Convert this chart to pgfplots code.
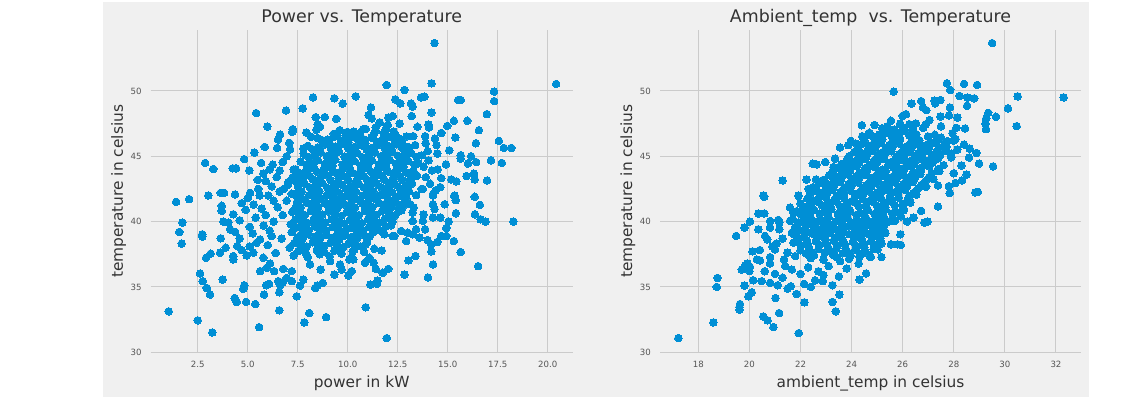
\documentclass[border=0pt]{standalone}
\usepackage{pgfplots}
\usepackage{pgfplotstable}
\pgfplotsset{compat=1.18}
\usepackage{fontspec}
\setmainfont{DejaVu Sans}
\definecolor{bg}{HTML}{F0F0F0}
\definecolor{gridc}{HTML}{CBCBCB}
\definecolor{dot}{HTML}{008FD5}
\definecolor{txt}{HTML}{333333}
\definecolor{tickc}{HTML}{555555}

% power (kW) vs temperature
\pgfplotstableread{
x y
8.27 49.51
9.33 49.44
9.75 49.03
10.4 49.59
5.42 48.31
6.92 48.51
7.75 48.67
8.4 48.0
8.85 48.0
9.43 47.87
5.98 47.28
7.25 47.08
7.23 46.87
7.93 46.82
8.5 47.46
8.62 47.26
8.43 47.03
6.62 46.67
6.52 46.28
6.47 45.64
5.85 45.72
7.08 46.03
7.12 45.54
8.18 46.49
8.73 46.23
9.48 46.79
9.98 46.87
10.37 46.44
10.78 47.08
5.33 45.28
4.82 44.79
2.87 44.49
3.28 44.03
4.25 44.08
4.42 44.08
5.08 43.92
5.67 44.49
6.25 44.36
6.75 44.56
6.95 45.0
7.78 45.59
5.78 43.67
6.45 43.41
7.03 43.03
7.45 43.41
3.03 42.0
3.65 42.2
3.82 42.2
4.37 42.08
5.12 42.2
5.53 42.51
6.03 42.0
7.2 42.13
5.9 43.1
6.2 42.7
6.6 43.9
6.8 42.5
7.3 44.0
5.5 43.2
6.1 44.0
14.34 53.67
11.95 50.46
14.19 50.59
12.84 50.08
20.42 50.54
17.32 49.95
17.32 49.23
15.52 49.31
15.65 49.31
12.38 49.36
12.63 49.05
13.17 49.05
13.25 48.8
13.67 49.51
13.84 49.56
11.16 48.74
11.04 48.15
14.19 48.36
13.2 48.08
12.03 47.97
12.25 48.08
15.31 47.72
15.98 47.72
16.96 48.23
14.98 47.33
14.68 46.79
16.56 47.0
15.38 46.44
16.41 46.0
17.56 46.18
17.81 45.64
18.18 45.64
15.08 45.46
15.65 45.08
15.65 44.82
16.17 45.0
16.42 44.56
16.01 44.44
17.16 44.69
17.71 44.49
14.91 44.38
15.94 43.49
16.31 43.67
16.35 43.23
16.97 43.15
14.68 43.33
15.18 43.23
15.43 43.08
14.26 42.0
15.35 42.0
14.04 47.44
14.07 47.21
13.49 47.26
13.28 46.54
13.87 46.54
14.36 46.36
14.44 45.85
14.48 45.21
14.04 44.69
14.21 43.92
14.12 42.9
14.63 42.64
11.2 47.9
11.6 47.6
12.0 47.4
12.6 47.5
11.4 47.2
13.9 46.0
14.0 45.4
13.8 44.2
14.5 44.0
13.9 43.4
14.4 42.4
13.7 42.5
1.42 41.51
2.07 41.72
1.73 39.92
1.58 39.21
1.7 38.31
2.73 39.03
2.73 38.85
3.65 38.72
3.78 40.0
3.7 41.21
3.7 40.82
4.28 40.56
4.7 41.41
4.12 39.41
4.37 39.21
4.03 39.92
2.92 37.23
3.15 37.54
3.62 37.62
3.9 38.0
4.28 37.1
4.28 37.36
4.48 38.13
4.7 37.82
4.95 37.41
5.28 37.62
5.25 39.1
5.45 38.38
5.62 38.64
5.78 37.23
5.62 36.21
5.95 36.46
6.32 36.21
6.12 36.79
2.62 36.03
2.75 35.44
2.95 34.92
3.12 34.41
3.75 35.56
4.83 35.13
4.78 34.85
4.35 34.15
4.45 33.85
4.92 33.85
5.38 33.69
5.82 34.41
5.92 35.13
6.07 35.23
6.58 34.59
6.62 35.13
6.75 35.36
6.53 35.44
6.95 35.69
7.2 35.44
7.45 34.28
7.62 35.1
7.78 35.56
8.38 34.92
8.48 35.1
8.75 35.31
6.58 33.21
1.05 33.13
2.5 32.44
3.23 31.51
5.57 31.92
8.08 33.0
8.92 32.69
7.83 32.28
10.9 33.44
9.33 35.95
9.7 36.33
10.03 35.87
10.2 36.21
10.28 37.1
10.08 37.1
9.62 36.72
8.65 36.33
9.12 36.97
8.12 36.72
7.2 36.21
6.78 36.38
5.0 41.8
5.3 41.3
5.7 41.0
5.9 40.5
6.3 40.0
4.6 40.1
5.1 39.6
5.4 40.3
6.1 39.3
5.8 39.7
6.3 41.6
5.6 42.0
4.9 40.9
6.0 38.2
6.4 37.6
6.2 38.9
5.1 38.1
4.6 38.7
18.28 40.0
16.89 40.0
16.64 40.18
16.36 40.56
16.61 41.28
16.35 41.9
15.4 41.64
15.32 41.97
15.41 40.64
15.65 37.67
16.52 36.59
15.31 38.51
15.05 40.0
14.85 41.33
14.63 40.31
14.93 38.9
14.93 39.51
14.68 38.9
14.48 38.44
14.18 37.72
14.18 38.26
14.27 36.72
14.01 35.72
13.99 38.59
13.87 39.41
13.76 40.05
13.79 40.56
14.26 40.31
14.34 40.95
14.26 41.33
14.26 42.1
12.84 35.95
13.04 37.03
13.39 37.36
13.59 38.77
13.42 39.41
13.25 39.03
13.0 39.15
12.92 38.51
12.67 39.28
12.33 38.9
12.03 36.38
11.75 36.08
11.41 36.38
11.3 36.85
11.13 35.18
11.46 35.23
11.49 35.49
11.95 31.08
10.86 36.85
11.08 37.23
11.7 37.79
11.33 37.92
10.82 37.67
10.9 38.26
11.83 39.03
12.25 38.9
13.25 40.05
13.25 40.69
13.3 41.08
13.13 41.33
12.8 41.21
12.87 41.97
13.42 42.03
13.76 42.5
7.3 37.4
8.0 37.28
8.6 37.5
9.1 37.34
9.7 37.54
10.2 37.3
7.1 38.0
7.61 37.88
7.95 38.1
8.48 37.94
8.83 38.14
9.4 37.9
9.78 38.04
10.33 37.85
10.66 38.09
6.7 38.7
7.41 38.48
7.75 38.7
8.28 38.54
8.63 38.74
9.2 38.5
9.58 38.64
10.13 38.45
10.46 38.69
10.97 38.57
7.2 39.2
7.71 39.08
8.05 39.3
8.58 39.14
8.93 39.34
9.5 39.1
9.88 39.24
10.43 39.05
10.76 39.29
11.27 39.17
11.64 39.32
7.15 39.8
7.66 39.68
8.0 39.9
8.53 39.74
8.88 39.94
9.45 39.7
9.83 39.84
10.38 39.65
10.71 39.89
11.22 39.77
11.59 39.92
12.17 39.72
6.75 40.5
7.51 40.28
7.85 40.5
8.38 40.34
8.73 40.54
9.3 40.3
9.68 40.44
10.23 40.25
10.56 40.49
11.07 40.37
11.44 40.52
12.02 40.32
12.37 40.46
6.5 41.1
7.31 40.88
7.65 41.1
8.18 40.94
8.53 41.14
9.1 40.9
9.48 41.04
10.03 40.85
10.36 41.09
10.87 40.97
11.24 41.12
11.82 40.92
12.17 41.06
12.69 40.87
6.95 41.6
7.46 41.48
7.8 41.7
8.33 41.54
8.68 41.74
9.25 41.5
9.63 41.64
10.18 41.45
10.51 41.69
11.02 41.57
11.39 41.72
11.97 41.52
12.32 41.66
12.84 41.47
6.6 42.3
7.36 42.08
7.7 42.3
8.23 42.14
8.58 42.34
9.15 42.1
9.53 42.24
10.08 42.05
10.41 42.29
10.92 42.17
11.29 42.32
11.87 42.12
12.22 42.26
12.74 42.07
13.07 42.31
7.0 42.8
7.51 42.68
7.85 42.9
8.38 42.74
8.73 42.94
9.3 42.7
9.68 42.84
10.23 42.65
10.56 42.89
11.07 42.77
11.44 42.92
12.02 42.72
12.37 42.86
12.89 42.67
13.22 42.91
7.25 43.4
7.76 43.28
8.1 43.5
8.63 43.34
8.98 43.54
9.55 43.3
9.93 43.44
10.48 43.25
10.81 43.49
11.32 43.37
11.69 43.52
12.27 43.32
12.62 43.46
13.14 43.27
13.47 43.51
7.4 44.0
7.91 43.88
8.25 44.1
8.78 43.94
9.13 44.14
9.7 43.9
10.08 44.04
10.63 43.85
10.96 44.09
11.47 43.97
11.84 44.12
12.42 43.92
12.77 44.06
13.29 43.87
7.65 44.6
8.16 44.48
8.5 44.7
9.03 44.54
9.38 44.74
9.95 44.5
10.33 44.64
10.88 44.45
11.21 44.69
11.72 44.57
12.09 44.72
12.67 44.52
13.02 44.66
13.54 44.47
7.8 45.2
8.31 45.08
8.65 45.3
9.18 45.14
9.53 45.34
10.1 45.1
10.48 45.24
11.03 45.05
11.36 45.29
11.87 45.17
12.24 45.32
12.82 45.12
13.17 45.26
13.69 45.07
8.0 45.8
8.51 45.68
8.85 45.9
9.38 45.74
9.73 45.94
10.3 45.7
10.68 45.84
11.23 45.65
11.56 45.89
12.07 45.77
12.44 45.92
13.02 45.72
13.37 45.86
8.5 46.4
9.01 46.28
9.35 46.5
9.88 46.34
10.23 46.54
10.8 46.3
11.18 46.44
11.73 46.25
12.06 46.49
12.57 46.37
12.94 46.52
9.6 47.0
10.3 46.9
10.9 47.1
11.4 46.95
11.9 47.05
12.3 46.9
7.53 37.75
7.9 37.6
8.46 37.82
8.83 37.66
9.34 37.78
9.68 37.57
10.25 37.72
7.33 38.35
7.7 38.2
8.26 38.42
8.63 38.26
9.14 38.38
9.48 38.17
10.05 38.32
10.42 38.23
10.97 38.4
7.5 38.8
8.06 39.02
8.43 38.86
8.94 38.98
9.28 38.77
9.85 38.92
10.22 38.83
10.77 39.0
11.11 38.88
7.43 39.55
7.8 39.4
8.36 39.62
8.73 39.46
9.24 39.58
9.58 39.37
10.15 39.52
10.52 39.43
11.07 39.6
11.41 39.48
11.92 39.63
7.38 40.15
7.75 40.0
8.31 40.22
8.68 40.06
9.19 40.18
9.53 39.97
10.1 40.12
10.47 40.03
11.02 40.2
11.36 40.08
11.87 40.23
12.24 40.01
7.23 40.75
7.6 40.6
8.16 40.82
8.53 40.66
9.04 40.78
9.38 40.57
9.95 40.72
10.32 40.63
10.87 40.8
11.21 40.68
11.72 40.83
12.09 40.61
12.54 40.76
7.45 41.2
8.01 41.42
8.38 41.26
8.89 41.38
9.23 41.17
9.8 41.32
10.17 41.23
10.72 41.4
11.06 41.28
11.57 41.43
11.94 41.21
12.49 41.36
7.5 41.8
8.06 42.02
8.43 41.86
8.94 41.98
9.28 41.77
9.85 41.92
10.22 41.83
10.77 42.0
11.11 41.88
11.62 42.03
11.99 41.81
12.54 41.96
12.94 41.78
7.55 42.4
8.11 42.62
8.48 42.46
8.99 42.58
9.33 42.37
9.9 42.52
10.27 42.43
10.82 42.6
11.16 42.48
11.67 42.63
12.04 42.41
12.59 42.56
12.99 42.38
7.33 43.15
7.7 43.0
8.26 43.22
8.63 43.06
9.14 43.18
9.48 42.97
10.05 43.12
10.42 43.03
10.97 43.2
11.31 43.08
11.82 43.23
12.19 43.01
12.74 43.16
13.14 42.98
7.53 43.75
7.9 43.6
8.46 43.82
8.83 43.66
9.34 43.78
9.68 43.57
10.25 43.72
10.62 43.63
11.17 43.8
11.51 43.68
12.02 43.83
12.39 43.61
12.94 43.76
13.34 43.58
7.93 44.35
8.3 44.2
8.86 44.42
9.23 44.26
9.74 44.38
10.08 44.17
10.65 44.32
11.02 44.23
11.57 44.4
11.91 44.28
12.42 44.43
12.79 44.21
13.34 44.36
8.03 44.95
8.4 44.8
8.96 45.02
9.33 44.86
9.84 44.98
10.18 44.77
10.75 44.92
11.12 44.83
11.67 45.0
12.01 44.88
12.52 45.03
12.89 44.81
13.44 44.96
8.23 45.55
8.6 45.4
9.16 45.62
9.53 45.46
10.04 45.58
10.38 45.37
10.95 45.52
11.32 45.43
11.87 45.6
12.21 45.48
12.72 45.63
13.09 45.41
8.73 46.15
9.1 46.0
9.66 46.22
10.03 46.06
10.54 46.18
10.88 45.97
11.45 46.12
11.82 46.03
12.37 46.2
12.71 46.08
9.3 46.72
9.9 46.62
10.6 46.78
11.3 46.66
11.8 46.74
12.4 46.6
}\powerdata

% ambient temperature vs temperature
\pgfplotstableread{
x y
24.4 47.38
24.66 46.67
24.42 46.54
23.97 46.18
23.87 45.85
23.55 45.67
24.17 45.97
22.48 44.44
22.63 44.38
22.97 44.56
23.35 44.82
21.3 43.15
22.24 43.21
22.61 43.23
22.31 42.51
22.5 42.64
23.03 42.9
23.26 43.67
23.29 44.18
23.71 44.38
23.42 43.28
20.55 42.0
21.92 42.0
29.5 53.67
25.65 49.95
27.73 50.59
27.86 50.08
28.4 50.54
28.91 50.46
28.23 49.62
28.53 49.49
28.8 49.44
28.52 48.87
30.5 49.59
32.3 49.51
30.12 48.67
29.65 48.03
29.35 48.33
29.27 47.9
29.24 47.51
29.26 47.08
30.46 47.31
26.35 49.03
26.72 49.23
27.25 49.26
27.48 49.31
27.27 49.05
26.79 48.74
26.92 48.54
27.85 48.74
26.13 48.23
26.0 48.1
25.54 47.72
27.48 48.05
27.81 48.13
28.14 47.97
28.44 47.13
28.1 47.18
27.05 47.77
26.52 47.51
26.26 47.46
28.62 45.59
28.89 45.26
28.99 44.44
29.54 44.23
28.32 43.15
28.07 42.95
27.81 42.72
27.84 42.18
27.38 42.77
26.92 42.69
25.67 47.05
24.88 46.49
25.28 46.74
28.0 46.2
28.4 45.9
28.6 44.9
28.3 44.3
28.0 43.7
28.5 43.6
27.9 45.2
17.22 31.08
18.59 32.28
18.75 35.69
18.72 35.0
19.48 38.9
19.63 33.69
19.61 33.46
19.61 33.26
19.81 35.1
19.96 34.28
20.09 34.59
19.7 36.33
19.83 36.64
19.92 36.79
20.0 36.21
20.02 36.54
20.15 35.51
20.12 37.72
20.41 37.82
20.29 37.1
20.41 37.03
19.81 39.54
20.02 40.0
20.35 40.62
20.58 40.62
20.58 41.9
20.35 39.41
20.48 35.44
20.54 32.74
20.71 32.44
20.94 31.92
21.16 33.0
21.02 34.15
20.81 35.31
21.11 35.13
20.81 40.05
21.13 40.13
21.17 39.41
20.61 38.9
20.7 38.64
20.81 37.28
20.81 36.79
21.0 37.87
21.07 38.33
21.49 37.62
21.36 37.1
21.66 36.33
21.5 34.87
21.62 35.05
21.85 34.46
22.15 33.82
21.93 31.46
22.14 35.23
22.4 35.0
22.57 35.51
22.87 35.44
23.25 35.13
23.52 34.41
23.25 33.85
23.38 33.13
23.81 36.41
24.31 35.56
24.57 36.03
24.28 36.79
24.75 37.31
23.55 36.97
21.92 41.97
21.59 41.08
21.72 40.69
21.59 40.05
21.17 39.92
20.81 39.54
21.66 39.15
21.72 38.38
21.79 37.36
20.9 38.1
21.3 38.7
21.4 36.6
20.6 36.2
21.0 36.0
21.3 35.7
22.0 36.0
22.3 36.5
22.7 36.2
23.1 36.6
22.9 35.9
23.5 35.8
28.84 42.23
28.94 42.28
27.38 41.15
26.85 39.92
26.98 40.0
26.43 40.31
26.17 40.0
26.72 40.82
25.91 39.03
25.54 38.26
25.8 38.26
25.93 38.21
25.17 38.33
25.17 37.28
24.73 37.28
24.89 37.92
24.89 38.9
25.02 37.87
25.28 39.28
25.41 40.0
25.67 40.05
22.4 37.2
22.9 37.1
23.4 37.3
23.9 37.15
24.3 37.32
22.0 37.8
22.39 37.68
22.7 37.9
23.1 37.74
23.4 37.94
23.83 37.7
24.15 37.84
24.56 37.65
24.86 37.89
21.9 38.4
22.29 38.28
22.6 38.5
23.0 38.34
23.3 38.54
23.73 38.3
24.05 38.44
24.46 38.25
24.76 38.49
25.11 38.37
21.75 39.0
22.14 38.88
22.45 39.1
22.85 38.94
23.15 39.14
23.58 38.9
23.9 39.04
24.31 38.85
24.61 39.09
25.0 38.97
25.32 39.12
21.8 39.6
22.18 39.48
22.48 39.7
22.87 39.54
23.16 39.74
23.58 39.5
23.89 39.64
24.29 39.45
24.58 39.69
24.96 39.57
25.27 39.72
21.7 40.2
22.09 40.08
22.4 40.3
22.8 40.14
23.1 40.34
23.53 40.1
23.85 40.24
24.26 40.05
24.56 40.29
24.95 40.17
25.27 40.32
25.7 40.12
21.85 40.8
22.23 40.68
22.53 40.9
22.92 40.74
23.21 40.94
23.63 40.7
23.94 40.84
24.34 40.65
24.63 40.89
25.01 40.77
25.32 40.92
25.74 40.72
26.03 40.86
22.0 41.4
22.39 41.28
22.7 41.5
23.1 41.34
23.4 41.54
23.83 41.3
24.15 41.44
24.56 41.25
24.86 41.49
25.25 41.37
25.57 41.52
26.0 41.32
26.3 41.46
22.35 42.0
22.73 41.88
23.03 42.1
23.42 41.94
23.71 42.14
24.13 41.9
24.44 42.04
24.84 41.85
25.13 42.09
25.51 41.97
25.82 42.12
26.24 41.92
26.53 42.06
22.6 42.6
22.99 42.48
23.3 42.7
23.7 42.54
24.0 42.74
24.43 42.5
24.75 42.64
25.16 42.45
25.46 42.69
25.85 42.57
26.17 42.72
26.6 42.52
26.9 42.66
22.9 43.2
23.29 43.08
23.6 43.3
24.0 43.14
24.3 43.34
24.73 43.1
25.05 43.24
25.46 43.05
25.76 43.29
26.15 43.17
26.47 43.32
26.9 43.12
27.2 43.26
23.25 43.8
23.63 43.68
23.93 43.9
24.32 43.74
24.61 43.94
25.03 43.7
25.34 43.84
25.74 43.65
26.03 43.89
26.41 43.77
26.72 43.92
27.14 43.72
27.43 43.86
23.6 44.4
23.99 44.28
24.3 44.5
24.7 44.34
25.0 44.54
25.43 44.3
25.75 44.44
26.16 44.25
26.46 44.49
26.85 44.37
27.17 44.52
27.6 44.32
23.9 45.0
24.29 44.88
24.6 45.1
25.0 44.94
25.3 45.14
25.73 44.9
26.05 45.04
26.46 44.85
26.76 45.09
27.15 44.97
27.47 45.12
27.9 44.92
24.25 45.6
24.63 45.48
24.93 45.7
25.32 45.54
25.61 45.74
26.03 45.5
26.34 45.64
26.74 45.45
27.03 45.69
27.41 45.57
27.72 45.72
28.14 45.52
24.5 46.2
24.89 46.08
25.2 46.3
25.6 46.14
25.9 46.34
26.33 46.1
26.65 46.24
27.06 46.05
27.36 46.29
27.75 46.17
28.07 46.32
24.7 46.8
25.09 46.68
25.4 46.9
25.8 46.74
26.1 46.94
26.53 46.7
27.26 46.65
27.95 46.77
24.9 47.4
25.4 47.3
25.9 47.5
26.4 47.35
26.9 47.45
27.5 47.3
22.22 37.55
22.53 37.4
22.95 37.62
23.27 37.46
23.66 37.58
23.96 37.37
24.39 37.52
22.02 38.15
22.33 38.0
22.75 38.22
23.07 38.06
23.46 38.18
23.76 37.97
24.19 38.12
24.5 38.03
24.9 38.2
21.92 38.75
22.23 38.6
22.65 38.82
22.97 38.66
23.36 38.78
23.66 38.57
24.09 38.72
24.4 38.63
24.8 38.8
25.12 38.68
21.97 39.35
22.28 39.2
22.7 39.42
23.02 39.26
23.41 39.38
23.71 39.17
24.14 39.32
24.45 39.23
24.85 39.4
25.17 39.28
21.92 39.95
22.23 39.8
22.65 40.02
22.97 39.86
23.36 39.98
23.66 39.77
24.09 39.92
24.4 39.83
24.8 40.0
25.12 39.88
25.49 40.03
22.02 40.55
22.33 40.4
22.75 40.62
23.07 40.46
23.46 40.58
23.76 40.37
24.19 40.52
24.5 40.43
24.9 40.6
25.22 40.48
25.59 40.63
25.93 40.41
22.12 41.15
22.43 41.0
22.85 41.22
23.17 41.06
23.56 41.18
23.86 40.97
24.29 41.12
24.6 41.03
25.0 41.2
25.32 41.08
25.69 41.23
26.03 41.01
22.27 41.75
22.58 41.6
23.0 41.82
23.32 41.66
23.71 41.78
24.01 41.57
24.44 41.72
24.75 41.63
25.15 41.8
25.47 41.68
25.84 41.83
26.18 41.61
22.52 42.35
22.83 42.2
23.25 42.42
23.57 42.26
23.96 42.38
24.26 42.17
24.69 42.32
25.0 42.23
25.4 42.4
25.72 42.28
26.09 42.43
26.43 42.21
22.82 42.95
23.13 42.8
23.55 43.02
23.87 42.86
24.26 42.98
24.56 42.77
24.99 42.92
25.3 42.83
25.7 43.0
26.02 42.88
26.39 43.03
26.73 42.81
23.12 43.55
23.43 43.4
23.85 43.62
24.17 43.46
24.56 43.58
24.86 43.37
25.29 43.52
25.6 43.43
26.0 43.6
26.32 43.48
26.69 43.63
27.03 43.41
23.47 44.15
23.78 44.0
24.2 44.22
24.52 44.06
24.91 44.18
25.21 43.97
25.64 44.12
25.95 44.03
26.35 44.2
26.67 44.08
27.04 44.23
27.38 44.01
23.82 44.75
24.13 44.6
24.55 44.82
24.87 44.66
25.26 44.78
25.56 44.57
25.99 44.72
26.3 44.63
26.7 44.8
27.02 44.68
27.39 44.83
24.12 45.35
24.43 45.2
24.85 45.42
25.17 45.26
25.56 45.38
25.86 45.17
26.29 45.32
26.6 45.23
27.0 45.4
27.32 45.28
27.69 45.43
24.42 45.95
24.73 45.8
25.15 46.02
25.47 45.86
25.86 45.98
26.16 45.77
26.59 45.92
26.9 45.83
27.3 46.0
27.62 45.88
24.82 46.55
25.13 46.4
25.55 46.62
25.87 46.46
26.26 46.58
26.56 46.37
26.99 46.52
27.5 46.43
25.2 47.15
25.6 47.0
26.0 47.22
26.4 47.06
26.8 47.18
}\ambientdata

\pgfplotsset{
  myaxis/.style={
    scale only axis,
    height=322.6bp,
    ymin=29.97, ymax=54.67,
    ytick={30,35,40,45,50},
    axis line style={draw=none},
    major tick length=0pt,
    grid=major,
    major grid style={gridc, line width=1bp},
    tick label style={font=\fontsize{8.6bp}{10bp}\selectfont, text=tickc},
    /pgf/number format/assume math mode=true,
    yticklabel style={anchor=east, inner sep=0pt, xshift=-9bp},
    xticklabel style={anchor=north, inner sep=0pt, yshift=-8.4bp},
    every axis title/.style={at={(axis description cs:0.5,1)}, anchor=base,
      yshift=7.3bp, inner sep=0pt,
      font=\fontsize{17.4bp}{20bp}\selectfont, text=txt},
    every axis x label/.style={at={(axis description cs:0.5,0)}, anchor=base,
      yshift=-34.7bp, inner sep=0pt, font=\fontsize{15.4bp}{18bp}\selectfont, text=txt},
    every axis y label/.style={at={(axis description cs:-0.066,0.5)}, rotate=90,
      anchor=base, inner sep=0pt, font=\fontsize{15.4bp}{18bp}\selectfont, text=txt},
  },
  dots/.style={only marks, mark=*, color=dot, mark size=3.8bp,
    mark options={line width=0pt, draw=dot, fill=dot}},
}

\begin{document}
\begin{tikzpicture}
\fill[white] (0,0) rectangle (1132bp,399bp);
\fill[bg] (103bp,2bp) rectangle (1089bp,397bp);

\begin{axis}[myaxis,
  at={(150.7bp,46.4bp)}, anchor=south west,
  width=422bp,
  xmin=0.15, xmax=21.25,
  xtick={2.5,5,7.5,10,12.5,15,17.5,20},
  xticklabel style={/pgf/number format/.cd, fixed, fixed zerofill, precision=1},
  title={Power vs. Temperature},
  xlabel={power in kW},
  ylabel={temperature in celsius},
]
\addplot[dots] table[x=x, y=y] {\powerdata};
\end{axis}

\begin{axis}[myaxis,
  at={(660bp,46.4bp)}, anchor=south west,
  width=421bp,
  xmin=16.5, xmax=32.98,
  xtick={18,20,22,24,26,28,30,32},
  title={Ambient\_temp\ \ vs. Temperature},
  xlabel={ambient\_temp in celsius},
  ylabel={temperature in celsius},
]
\addplot[dots] table[x=x, y=y] {\ambientdata};
\end{axis}
\end{tikzpicture}
\end{document}
